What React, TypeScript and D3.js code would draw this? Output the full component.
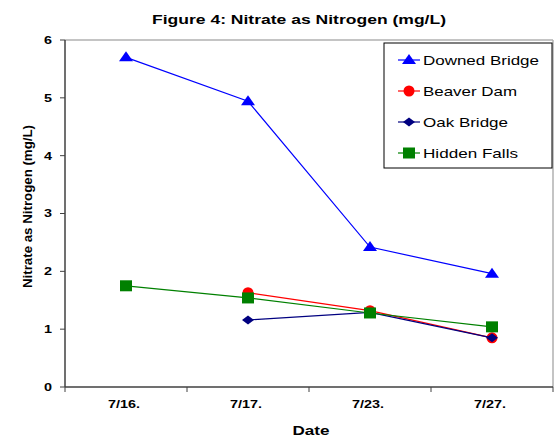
import React from "react";
import * as d3 from "d3";

// chart data
const dates = ["7/16.", "7/17.", "7/23.", "7/27."];
const downedBridge = [5.7, 4.94, 2.42, 1.96];
const beaverDam = [null, 1.63, 1.32, 0.85];
const oakBridge = [null, 1.16, 1.29, 0.85];
const hiddenFalls = [1.75, 1.54, 1.28, 1.04];
const yTickValues = [0, 1, 2, 3, 4, 5, 6];

const seriesList = [
  { name: "Downed Bridge", values: downedBridge, color: "#0000ff", marker: "triangle", textLen: 116 },
  { name: "Beaver Dam", values: beaverDam, color: "#ff0000", marker: "circle", textLen: 94 },
  { name: "Oak Bridge", values: oakBridge, color: "#000080", marker: "diamond", textLen: 85 },
  { name: "Hidden Falls", values: hiddenFalls, color: "#008000", marker: "square", textLen: 95 },
];

const width = 554;
const height = 438;
const margin = { top: 40, right: 1, bottom: 51, left: 65 };
const font = "Liberation Sans, Arial, sans-serif";

const Marker = ({ type, x, y, color }: { type: string; x: number; y: number; color: string }) => {
  if (type === "triangle") {
    return <path d={`M${x},${y - 6} L${x + 7},${y + 4} L${x - 7},${y + 4} Z`} fill={color} />;
  }
  if (type === "circle") {
    return <circle cx={x} cy={y} r={5.5} fill={color} />;
  }
  if (type === "diamond") {
    return <path d={`M${x},${y - 4.5} L${x + 6},${y} L${x},${y + 4.5} L${x - 6},${y} Z`} fill={color} />;
  }
  return <rect x={x - 6} y={y - 5.5} width={12} height={11} fill={color} />;
};

const App = () => {
  const x0 = margin.left;
  const x1 = width - margin.right;
  const y0 = height - margin.bottom;
  const yTop = margin.top;

  // Category scale for the dates
  const xScale = d3.scaleBand().domain(dates).range([x0, x1]);
  const xc = (d: string) => (xScale(d) as number) + xScale.bandwidth() / 2;

  const yScale = d3.scaleLinear().domain([0, 6]).range([y0, yTop]);

  const lineGen = d3
    .line<number | null>()
    .defined((d) => d !== null)
    .x((_, i) => xc(dates[i]))
    .y((d) => yScale(d as number));

  const bandEdges = dates.map((d) => xScale(d) as number).concat([x1]);

  return (
    <svg
      width={width}
      height={height}
      style={{ position: "absolute", left: 0, top: 0, background: "#fff" }}
      fontFamily={font}
    >
      {/* Title */}
      <text x={152} y={24} fontSize={12.5} fontWeight="bold" textLength={294} lengthAdjust="spacingAndGlyphs">
        Figure 4: Nitrate as Nitrogen (mg/L)
      </text>

      {/* plot frame (top and right in gray) */}
      <line x1={x0} y1={yTop} x2={x1} y2={yTop} stroke="#b0b0b0" strokeWidth={1.5} />
      <line x1={x1} y1={yTop} x2={x1} y2={y0} stroke="#b0b0b0" strokeWidth={1.5} />

      {/* Y axis */}
      <line x1={x0} y1={yTop} x2={x0} y2={y0} stroke="#404040" strokeWidth={1.5} />
      {yTickValues.map((t) => (
        <g key={t} transform={`translate(${x0}, ${yScale(t)})`}>
          <line x1={-5} x2={0} stroke="#404040" />
          <text x={-13} dy="0.35em" textAnchor="end" fontSize={11} fontWeight="bold" textLength={8} lengthAdjust="spacingAndGlyphs">
            {t}
          </text>
        </g>
      ))}
      <text
        transform={`translate(32, ${206.5}) rotate(-90)`}
        textAnchor="middle"
        fontSize={12.5}
        fontWeight="bold"
        textLength={163}
        lengthAdjust="spacingAndGlyphs"
      >
        Nitrate as Nitrogen (mg/L)
      </text>

      {/* X axis */}
      <line x1={x0} y1={y0} x2={x1} y2={y0} stroke="#404040" strokeWidth={1.5} />
      {bandEdges.map((e, i) => (
        <line key={i} x1={e} x2={e} y1={y0} y2={y0 + 5} stroke="#404040" />
      ))}
      {dates.map((d) => (
        <text
          key={d}
          x={xc(d) - 2}
          y={y0 + 21}
          textAnchor="middle"
          fontSize={11}
          fontWeight="bold"
          textLength={32}
          lengthAdjust="spacingAndGlyphs"
        >
          {d}
        </text>
      ))}
      <text
        x={311}
        y={y0 + 48}
        textAnchor="middle"
        fontSize={13}
        fontWeight="bold"
        textLength={37}
        lengthAdjust="spacingAndGlyphs"
      >
        Date
      </text>

      {/* Series */}
      {seriesList.map((s) => (
        <g key={s.name}>
          <path d={lineGen(s.values) || ""} fill="none" stroke={s.color} strokeWidth={1.2} />
          {s.values.map((v, i) =>
            v === null ? null : (
              <Marker key={i} type={s.marker} x={xc(dates[i])} y={yScale(v)} color={s.color} />
            )
          )}
        </g>
      ))}

      {/* Legend */}
      <rect x={384} y={43} width={168} height={125} fill="#fff" stroke="#000" strokeWidth={1} />
      {seriesList.map((s, i) => {
        const ly = 60 + i * 31;
        return (
          <g key={s.name}>
            <line x1={398} x2={420} y1={ly} y2={ly} stroke={s.color} strokeWidth={1.2} />
            <Marker type={s.marker} x={409} y={ly} color={s.color} />
            <text
              x={423}
              y={ly}
              dy="0.35em"
              fontSize={13.5}
              textLength={s.textLen}
              lengthAdjust="spacingAndGlyphs"
            >
              {s.name}
            </text>
          </g>
        );
      })}
    </svg>
  );
};

export default App;
